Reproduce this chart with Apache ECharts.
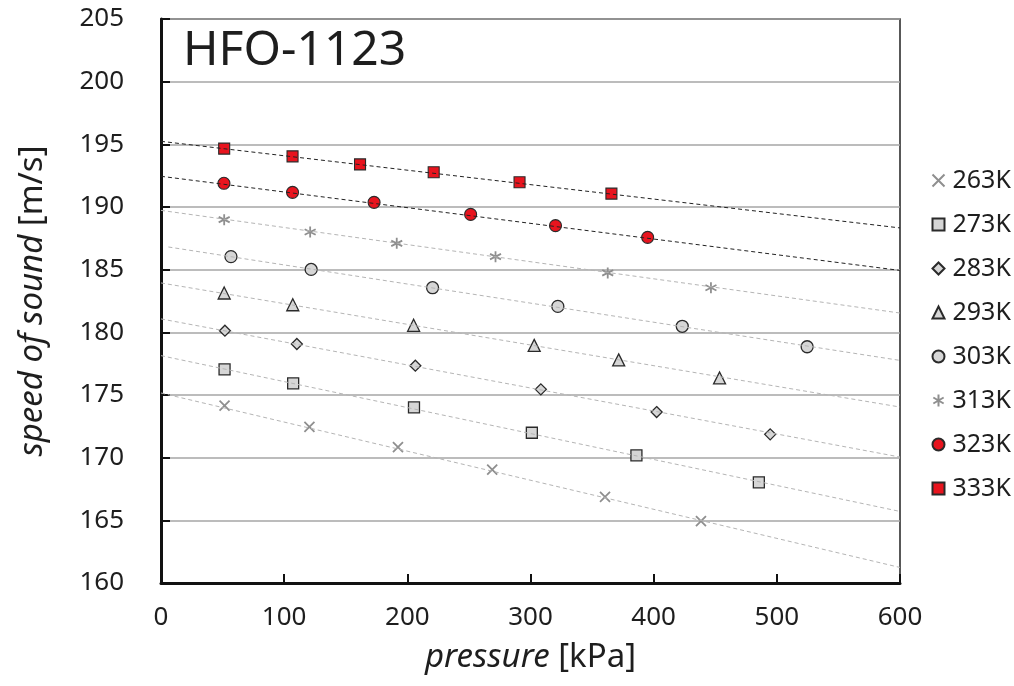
<!DOCTYPE html>
<html>
<head>
<meta charset="utf-8">
<script src="https://cdn.jsdelivr.net/npm/echarts@6/dist/echarts.min.js"></script>
<style>
  html, body { margin: 0; padding: 0; background: #fff; }
  #chart { width: 1014px; height: 686px; }
</style>
</head>
<body>
<div id="chart"></div>
<script>
// temperatures (legend order)
const temps = ['263K', '273K', '283K', '293K', '303K', '313K', '323K', '333K'];

// pressure [kPa] of each measured point
const p263 = [51.6, 120.5, 192.4, 268.9, 360.5, 438.4];
const p273 = [51.6, 107.3, 205.4, 301.1, 386.0, 485.4];
const p283 = [51.9, 110.3, 206.5, 308.4, 402.4, 494.6];
const p293 = [51.3, 107.0, 205.1, 303.0, 371.6, 453.5];
const p303 = [56.8, 121.9, 220.5, 322.2, 423.2, 524.6];
const p313 = [51.3, 121.1, 191.4, 271.6, 362.7, 446.5];
const p323 = [51.1, 106.8, 173.0, 251.4, 320.3, 395.1];
const p333 = [51.3, 106.8, 161.6, 221.4, 291.1, 365.7];

// speed of sound [m/s]
const w263 = [174.15, 172.45, 170.85, 169.04, 166.88, 164.94];
const w273 = [177.04, 175.93, 174.01, 171.99, 170.18, 168.03];
const w283 = [180.13, 179.07, 177.34, 175.45, 173.64, 171.86];
const w293 = [183.14, 182.20, 180.56, 178.96, 177.80, 176.36];
const w303 = [186.04, 185.02, 183.56, 182.07, 180.48, 178.85];
const w313 = [188.99, 188.00, 187.10, 186.04, 184.74, 183.56];
const w323 = [191.89, 191.17, 190.37, 189.41, 188.51, 187.58];
const w333 = [194.66, 194.04, 193.40, 192.77, 191.97, 191.07];

// dashed trend lines, read at their ends
const trendStartP = [0, 0, 0, 0, 6, 0, 0, 0];
const trendStartW = [175.16, 178.14, 181.07, 183.94, 186.81, 189.73, 192.45, 195.24];
const trendEndP = [600, 600, 600, 600, 600, 600, 600, 600];
const trendEndW = [161.24, 165.71, 170.05, 174.04, 177.76, 181.54, 184.94, 188.33];

const xTicks = [0, 100, 200, 300, 400, 500, 600];
const yTicks = [160, 165, 170, 175, 180, 185, 190, 195, 200, 205];

const pressures = [p263, p273, p283, p293, p303, p313, p323, p333];
const speeds = [w263, w273, w283, w293, w303, w313, w323, w333];

// marker styles
const grayFill = '#d6d6d6';
const red = '#e8141e';
const edge = '#2a2a2a';
const crossPath = 'path://M0,0L10,10M10,0L0,10';
const starPath = 'path://M5,0L5,10M0.7,2.5L9.3,7.5M0.7,7.5L9.3,2.5';
const markers = [
  { symbol: crossPath, size: 10, style: { color: 'none', borderColor: '#8f8f8f', borderWidth: 1.8 } },
  { symbol: 'rect', size: 11, style: { color: grayFill, borderColor: edge, borderWidth: 1.3 } },
  { symbol: 'diamond', size: 11, style: { color: grayFill, borderColor: edge, borderWidth: 1.3 } },
  { symbol: 'triangle', size: 12, style: { color: grayFill, borderColor: edge, borderWidth: 1.3 } },
  { symbol: 'circle', size: 12, style: { color: grayFill, borderColor: edge, borderWidth: 1.3 } },
  { symbol: starPath, size: 11, style: { color: 'none', borderColor: '#8f8f8f', borderWidth: 1.8 } },
  { symbol: 'circle', size: 12, style: { color: red, borderColor: edge, borderWidth: 1.1 } },
  { symbol: 'rect', size: 11, style: { color: red, borderColor: edge, borderWidth: 1.1 } }
];

const series = [];
temps.forEach((t, i) => {
  series.push({
    name: t,
    type: 'scatter',
    symbol: markers[i].symbol,
    symbolSize: markers[i].size,
    itemStyle: Object.assign({ opacity: 1 }, markers[i].style),
    z: 2,
    data: pressures[i].map((p, k) => [p, speeds[i][k]])
  });
});
temps.forEach((t, i) => {
  series.push({
    name: 'fit ' + t,
    type: 'line',
    symbol: 'none',
    silent: true,
    z: 3,
    lineStyle: {
      color: i >= 6 ? '#222' : '#b5b5b5',
      width: 1,
      type: [4, 3]
    },
    data: [[trendStartP[i], trendStartW[i]], [trendEndP[i], trendEndW[i]]]
  });
});

const font = 'Noto Sans';
const textColor = '#1e1e1e';

const chart = echarts.init(document.getElementById('chart'));
chart.setOption({
  animation: false,
  backgroundColor: '#fff',
  textStyle: { fontFamily: font },
  title: {
    text: 'HFO-1123',
    left: 178,
    top: 22,
    textStyle: { fontFamily: font, fontSize: 48, fontWeight: 'normal', color: textColor }
  },
  legend: {
    data: temps,
    orient: 'vertical',
    left: 925,
    top: 163,
    itemWidth: 12,
    itemHeight: 12,
    itemGap: 19,
    textStyle: { fontFamily: font, fontSize: 25, color: textColor, lineHeight: 24, padding: [0, 0, 0, 3] }
  },
  grid: {
    left: 161,
    right: 114,
    top: 19,
    bottom: 103,
    show: true,
    borderColor: '#222',
    borderWidth: 1.5
  },
  xAxis: {
    type: 'value',
    min: xTicks[0],
    max: xTicks[xTicks.length - 1],
    interval: 100,
    name: '{i|pressure} [kPa]',
    nameLocation: 'middle',
    nameGap: 58,
    nameTextStyle: {
      fontFamily: font,
      fontSize: 33,
      color: textColor,
      rich: { i: { fontFamily: font, fontSize: 33, fontStyle: 'italic', color: textColor } }
    },
    axisLine: { lineStyle: { color: '#111', width: 3 } },
    axisTick: { inside: true, length: 9, lineStyle: { color: '#111', width: 2 } },
    axisLabel: { fontFamily: font, fontSize: 26, color: textColor, margin: 22 },
    splitLine: { show: false }
  },
  yAxis: {
    type: 'value',
    min: yTicks[0],
    max: yTicks[yTicks.length - 1],
    interval: 5,
    name: '{i|speed of sound} [m/s]',
    nameLocation: 'middle',
    nameGap: 112,
    nameTextStyle: {
      fontFamily: font,
      fontSize: 33,
      color: textColor,
      rich: { i: { fontFamily: font, fontSize: 33, fontStyle: 'italic', color: textColor } }
    },
    axisLine: { lineStyle: { color: '#111', width: 3 } },
    axisTick: { inside: true, length: 9, lineStyle: { color: '#111', width: 2 } },
    axisLabel: { fontFamily: font, fontSize: 26, color: textColor, margin: 37 },
    splitLine: { lineStyle: { color: '#a6a6a6', width: 1.5 } }
  },
  series: series
});
</script>
</body>
</html>
